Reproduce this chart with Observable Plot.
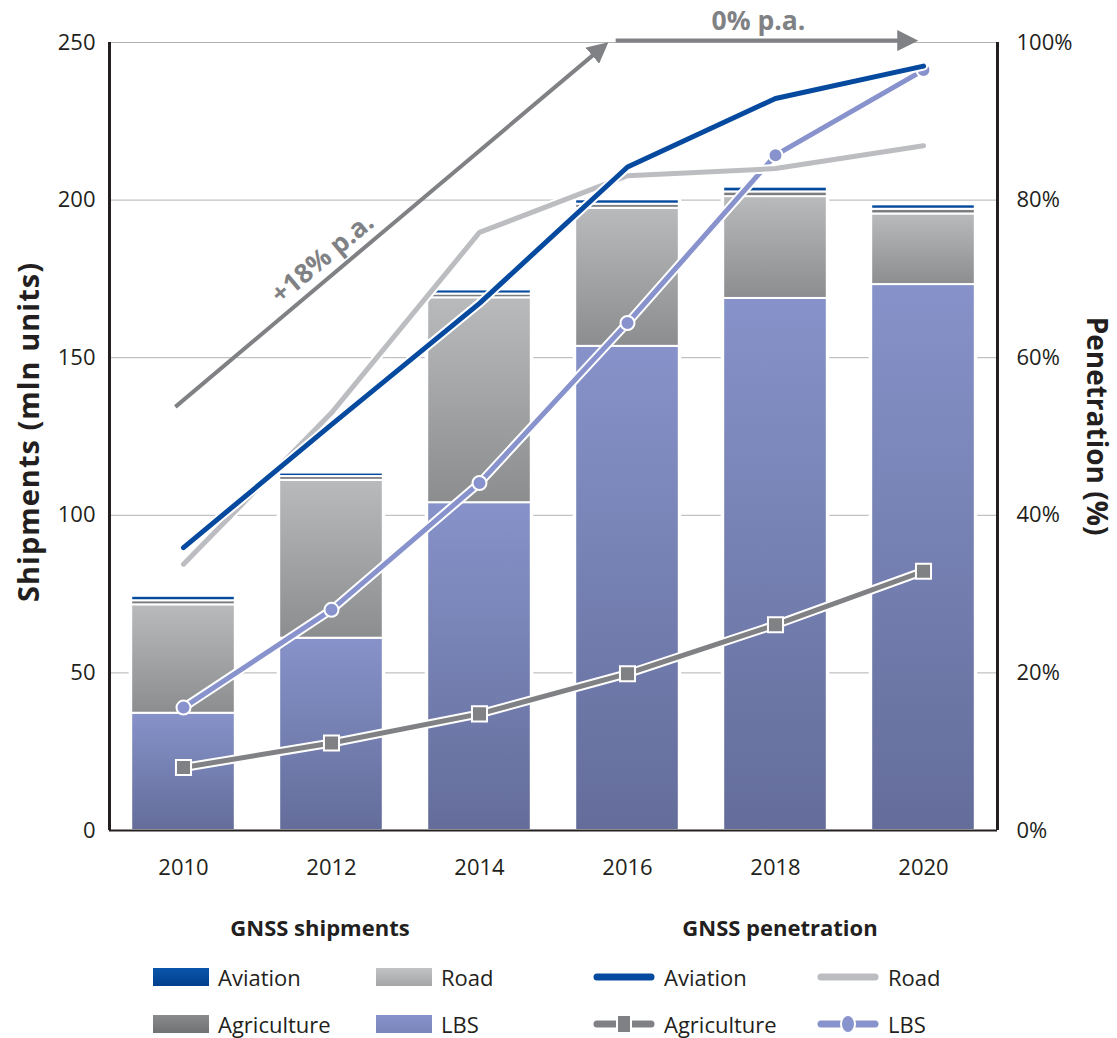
<!DOCTYPE html>
<html>
<head>
<meta charset="utf-8">
<script src="https://cdn.jsdelivr.net/npm/d3@7"></script>
<script src="https://cdn.jsdelivr.net/npm/@observablehq/plot@0.6"></script>
<style>
  html, body { margin: 0; padding: 0; background: #fff; }
  #chart { position: relative; width: 1117px; height: 1038px; font-family: 'Open Sans', sans-serif; color: #231f20; }
  #chart svg { display: block; }
</style>
</head>
<body>
<div id="chart"></div>
<script>
// ---------- DATA ----------
const years = [2010, 2012, 2014, 2016, 2018, 2020];

// GNSS shipments (mln units), stacked bottom -> top
const shipLBS         = [37.2, 61.0, 104.0, 153.6, 168.8, 173.2];
const shipRoad        = [34.4, 50.1, 65.0, 43.8, 32.3, 22.4];
const shipAgriculture = [1.3, 1.2, 1.2, 1.3, 1.5, 1.5];
const shipAviation    = [1.4, 1.1, 1.3, 1.4, 1.5, 1.4];

// GNSS penetration (%)
const penAviation    = [35.9, 51.5, 66.9, 84.2, 92.9, 97.0];
const penRoad        = [33.8, 53.0, 75.9, 83.1, 84.0, 86.9];
const penAgriculture = [8.0, 11.1, 14.8, 19.9, 26.1, 32.9];
const penLBS         = [15.6, 28.0, 44.1, 64.4, 85.7, 96.5];

// axis ticks
const shipTicks = [0, 50, 100, 150, 200, 250];
const penTicks = [0, 20, 40, 60, 80, 100];

// growth annotations (x in years, y in mln units)
const arrowX1 = [2009.89, 2015.84];
const arrowY1 = [134.4, 250.6];
const arrowX2 = [2015.59, 2019.73];
const arrowY2 = [247.1, 250.6];
const growthLabels = ["+18% p.a.", "0% p.a."];
const growthLabelX = [2011.88, 2017.77];
const growthLabelY = [181.5, 256.7];
const growthLabelAngle = [-40, 0];

// ---------- STYLE ----------
const PEN_MAX = 100, SHIP_MAX = 250;
const penToShip = p => p * SHIP_MAX / PEN_MAX;
const HALF_BAR = 0.7; // bar half-width in years
const INK = "#231f20";
const colors = {
  aviation: "#064a9f",
  road: "#bcbdc0",
  agriculture: "#808184",
  lbs: "#8892cc",
  arrow: "#808184"
};
const PLOT_H = 885;

// ---------- TABLES ----------
const seriesOrder = [
  {key: "LBS", values: shipLBS, fill: "url(#gLBS)"},
  {key: "Road", values: shipRoad, fill: "url(#gRoad)"},
  {key: "Agriculture", values: shipAgriculture, fill: "url(#gAgri)"},
  {key: "Aviation", values: shipAviation, fill: "url(#gAvi)"}
];
const segments = [];
years.forEach((yr, i) => {
  let base = 0;
  seriesOrder.forEach(s => {
    segments.push({year: yr, type: s.key, y1: base, y2: base + s.values[i]});
    base += s.values[i];
  });
});
const totals = years.map((yr, i) => ({year: yr, total: seriesOrder.reduce((a, s) => a + s.values[i], 0)}));

const penRows = (vals) => years.map((yr, i) => ({year: yr, pct: vals[i]}));
const penAvi = penRows(penAviation), penRd = penRows(penRoad), penAg = penRows(penAgriculture), penLb = penRows(penLBS);

const arrows = arrowX1.map((d, i) => ({x1: d, y1: arrowY1[i], x2: arrowX2[i], y2: arrowY2[i]}));
const labels = growthLabels.map((t, i) => ({text: t, x: growthLabelX[i], y: growthLabelY[i], a: growthLabelAngle[i]}));

function lineWithHalo(rows, color, opts = {}) {
  return [
    Plot.line(rows, {x: "year", y: d => penToShip(d.pct), stroke: "white", strokeWidth: 9, strokeLinecap: "round", strokeLinejoin: "round"}),
    Plot.line(rows, {x: "year", y: d => penToShip(d.pct), stroke: color, strokeWidth: 5, strokeLinecap: "round", strokeLinejoin: "miter", ...opts})
  ];
}

const segMarks = seriesOrder.map(s =>
  Plot.rect(segments.filter(d => d.type === s.key), {
    x1: d => d.year - HALF_BAR, x2: d => d.year + HALF_BAR,
    y1: "y1", y2: "y2", fill: s.fill, stroke: "white", strokeWidth: 2
  })
);

const svg = Plot.plot({
  width: 1117,
  height: PLOT_H,
  marginLeft: 109,
  marginRight: 120,
  marginTop: 42,
  marginBottom: PLOT_H - 830,
  style: {fontFamily: "'Open Sans', sans-serif", fontSize: "22px", color: INK, background: "white"},
  x: {domain: [2009, 2021], label: null},
  y: {domain: [0, 250], label: null},
  marks: [
    Plot.gridY(shipTicks.filter(d => d > 0), {stroke: "#b2b2b2", strokeOpacity: 1, strokeWidth: 1}),
    // white halo around each bar
    Plot.rect(totals, {x1: d => d.year - HALF_BAR, x2: d => d.year + HALF_BAR, y1: 0, y2: "total", fill: "white", stroke: "white", strokeWidth: 5}),
    ...segMarks,
    Plot.ruleX([2009], {stroke: INK, strokeWidth: 3}),
    Plot.ruleX([2021], {stroke: INK, strokeWidth: 3}),
    Plot.ruleY([0], {stroke: INK, strokeWidth: 2}),
    Plot.axisX({ticks: years, tickSize: 0, tickPadding: 29, tickFormat: d => String(d), label: null, fontSize: 22}),
    Plot.axisY({anchor: "left", ticks: shipTicks, tickSize: 0, tickPadding: 14, label: null, fontSize: 22}),
    Plot.axisY({anchor: "right", ticks: penTicks.map(penToShip), tickSize: 0, tickPadding: 19, label: null, fontSize: 22,
      tickFormat: d => Math.round(d * PEN_MAX / SHIP_MAX) + "%"}),
    // growth arrows
    Plot.link(arrows, {x1: "x1", y1: "y1", x2: "x2", y2: "y2", stroke: colors.arrow, strokeWidth: 4, className: "trend-arrow"}),
    Plot.text(labels, {x: "x", y: "y", text: "text", rotate: "a", fill: colors.arrow, fontWeight: "bold", fontSize: 26.5, textAnchor: "middle"}),
    // penetration lines
    ...lineWithHalo(penAg, colors.agriculture),
    Plot.dot(penAg, {x: "year", y: d => penToShip(d.pct), symbol: "square", r: 8.5, fill: colors.agriculture, stroke: "white", strokeWidth: 2}),
    ...lineWithHalo(penLb, colors.lbs),
    Plot.dot(penLb, {x: "year", y: d => penToShip(d.pct), r: 7, fill: colors.lbs, stroke: "white", strokeWidth: 2}),
    ...lineWithHalo(penRd, colors.road),
    ...lineWithHalo(penAvi, colors.aviation)
  ]
});

// gradients & arrow head
const defs = d3.select(svg).insert("defs", ":first-child");
function grad(id, top, bottom) {
  const g = defs.append("linearGradient").attr("id", id).attr("x1", 0).attr("y1", 0).attr("x2", 0).attr("y2", 1);
  g.append("stop").attr("offset", "0%").attr("stop-color", top);
  g.append("stop").attr("offset", "100%").attr("stop-color", bottom);
}
grad("gLBS", "#8692c9", "#646d9a");
grad("gRoad", "#b9babc", "#8c8d8f");
grad("gAgri", "#8a8b8d", "#707173");
grad("gAvi", "#0b55ab", "#003f8e");
defs.append("marker").attr("id", "arrowHead").attr("viewBox", "0 0 10 10")
  .attr("refX", 3).attr("refY", 5).attr("markerUnits", "userSpaceOnUse")
  .attr("markerWidth", 21).attr("markerHeight", 21).attr("orient", "auto")
  .append("path").attr("d", "M0,0L10,5L0,10Z").attr("fill", colors.arrow);
svg.querySelectorAll(".trend-arrow path").forEach(p => p.setAttribute("marker-end", "url(#arrowHead)"));

// axis titles
const s = d3.select(svg);
s.append("text").attr("transform", "translate(27,432) rotate(-90)")
  .attr("text-anchor", "middle").attr("dominant-baseline", "central")
  .attr("font-weight", "bold").attr("font-size", 29).attr("letter-spacing", 1).attr("fill", INK)
  .text("Shipments (mln units)");
s.append("text").attr("transform", "translate(1098,426) rotate(90)")
  .attr("text-anchor", "middle").attr("dominant-baseline", "central")
  .attr("font-weight", "bold").attr("font-size", 28).attr("fill", INK)
  .text("Penetration (%)");

const chart = document.getElementById("chart");
chart.appendChild(svg);

// ---------- LEGEND ----------
const LEG_H = 1038 - PLOT_H;
const off = PLOT_H; // page y of legend top
const leg = d3.select(chart).append("svg").attr("width", 1117).attr("height", LEG_H)
  .style("font-family", "'Open Sans', sans-serif").style("font-size", "22px");
const ldefs = leg.append("defs");
[["lgLBS", "#8692c9", "#7a85bb"], ["lgRoad", "#c2c3c5", "#a5a6a8"], ["lgAgri", "#8a8b8d", "#707173"], ["lgAvi", "#0b55ab", "#003f8e"]]
  .forEach(([id, t, b]) => {
    const g = ldefs.append("linearGradient").attr("id", id).attr("x1", 0).attr("y1", 0).attr("x2", 0).attr("y2", 1);
    g.append("stop").attr("offset", "0%").attr("stop-color", t);
    g.append("stop").attr("offset", "100%").attr("stop-color", b);
  });
leg.append("text").attr("x", 320).attr("y", 936 - off).attr("text-anchor", "middle").attr("font-weight", "bold").attr("fill", INK).text("GNSS shipments");
leg.append("text").attr("x", 780).attr("y", 936 - off).attr("text-anchor", "middle").attr("font-weight", "bold").attr("fill", INK).text("GNSS penetration");

const rows = [977 - off, 1024 - off];
const shipLegend = [
  {label: "Aviation", fill: "url(#lgAvi)", x: 153, r: 0},
  {label: "Road", fill: "url(#lgRoad)", x: 376, r: 0},
  {label: "Agriculture", fill: "url(#lgAgri)", x: 153, r: 1},
  {label: "LBS", fill: "url(#lgLBS)", x: 376, r: 1}
];
shipLegend.forEach(d => {
  const cy = rows[d.r];
  leg.append("rect").attr("x", d.x).attr("y", cy - 9).attr("width", 56).attr("height", 18).attr("fill", d.fill);
  leg.append("text").attr("x", d.x + 65).attr("y", cy).attr("dominant-baseline", "central").attr("fill", INK).text(d.label);
});
const penLegend = [
  {label: "Aviation", color: colors.aviation, x: 594, r: 0, mark: null},
  {label: "Road", color: colors.road, x: 818, r: 0, mark: null},
  {label: "Agriculture", color: colors.agriculture, x: 594, r: 1, mark: "square"},
  {label: "LBS", color: colors.lbs, x: 818, r: 1, mark: "circle"}
];
penLegend.forEach(d => {
  const cy = rows[d.r];
  leg.append("line").attr("x1", d.x + 3).attr("x2", d.x + 57).attr("y1", cy).attr("y2", cy)
    .attr("stroke", d.color).attr("stroke-width", 7).attr("stroke-linecap", "round");
  if (d.mark === "square") {
    leg.append("rect").attr("x", d.x + 23).attr("y", cy - 9).attr("width", 14).attr("height", 18)
      .attr("fill", d.color).attr("stroke", "white").attr("stroke-width", 2);
  } else if (d.mark === "circle") {
    leg.append("ellipse").attr("cx", d.x + 30).attr("cy", cy).attr("rx", 7).attr("ry", 9)
      .attr("fill", d.color).attr("stroke", "white").attr("stroke-width", 2);
  }
  leg.append("text").attr("x", d.x + 70).attr("y", cy).attr("dominant-baseline", "central").attr("fill", INK).text(d.label);
});
</script>
</body>
</html>
